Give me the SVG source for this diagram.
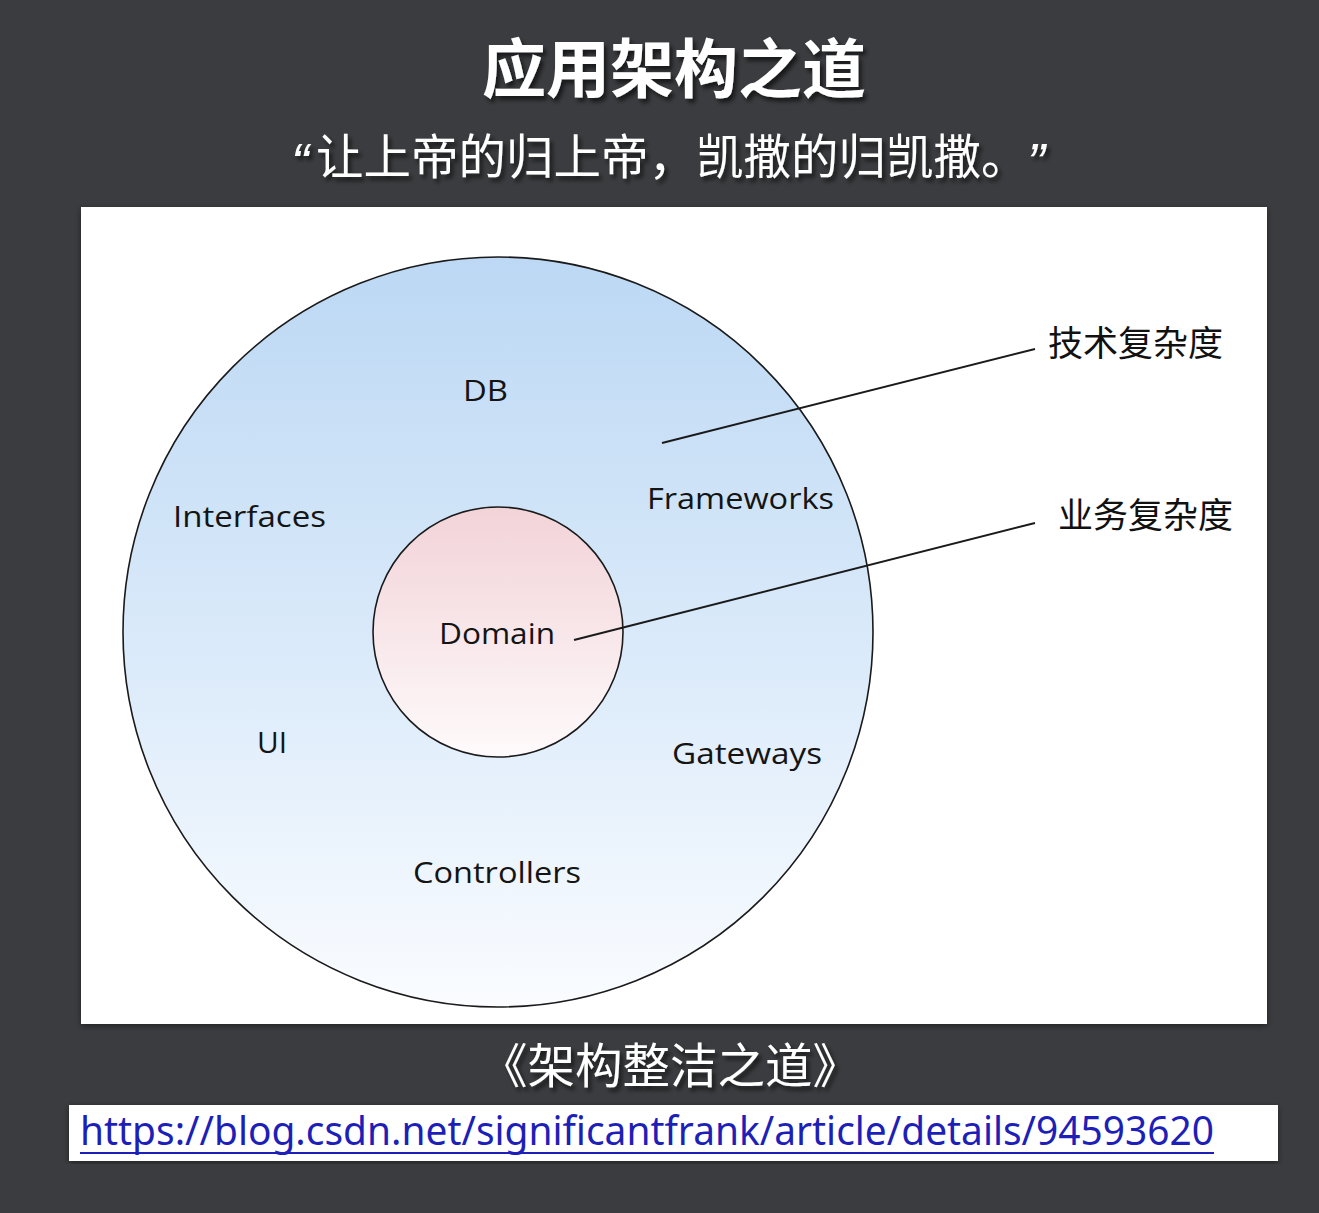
<svg xmlns="http://www.w3.org/2000/svg" width="1319" height="1213" viewBox="0 0 1319 1213">
  <defs>
    <linearGradient id="outerFill" x1="0" y1="0" x2="0" y2="1">
      <stop offset="0" stop-color="#bcd8f4"/>
      <stop offset="0.55" stop-color="#dcebfa"/>
      <stop offset="1" stop-color="#fafcff"/>
    </linearGradient>
    <linearGradient id="innerFill" x1="0" y1="0" x2="0" y2="1">
      <stop offset="0" stop-color="#f2d3d8"/>
      <stop offset="1" stop-color="#fefafb"/>
    </linearGradient>
    <filter id="titleShadow" x="-10%" y="-20%" width="120%" height="150%">
      <feDropShadow dx="3" dy="4" stdDeviation="2" flood-color="#000" flood-opacity="0.6"/>
    </filter>
    <filter id="panelShadow" x="-5%" y="-5%" width="110%" height="110%">
      <feDropShadow dx="0" dy="2" stdDeviation="3" flood-color="#000" flood-opacity="0.45"/>
    </filter>
  </defs>
  <style>
    .lbl { font-family: "Open Sans", "Liberation Sans", sans-serif; font-size: 30px; fill: #141414; }
    .cjk { font-family: "Noto Sans CJK SC", sans-serif; }
    .note { font-size: 35px; fill: #111; }
    .ring { stroke: #1a1a1a; stroke-width: 1.6; }
    .lead { stroke: #1a1a1a; stroke-width: 2; fill: none; }
    .white { fill: #ffffff; }
    .qmark { font-family: "Liberation Sans", sans-serif; font-size: 54px; font-style: italic; fill: #ffffff; }
  </style>

  <!-- backdrop -->
  <rect x="0" y="0" width="1319" height="1213" fill="#3b3c3f"/>

  <!-- headings -->
  <g id="title">
    <text x="674" y="92" text-anchor="middle" class="cjk white" font-size="64" font-weight="bold" filter="url(#titleShadow)">应用架构之道</text>
  </g>
  <g id="quote" filter="url(#titleShadow)">
    <text x="291" y="181" class="qmark">“</text>
    <text x="316" y="174" class="cjk white" font-size="47.5">让上帝的归上帝，凯撒的归凯撒。</text>
    <text x="1027" y="181" class="qmark">”</text>
  </g>

  <!-- white panel -->
  <rect x="81" y="207" width="1186" height="817" fill="#ffffff" filter="url(#panelShadow)"/>

  <!-- outer ring: technical layers -->
  <g id="outer-ring">
    <circle cx="498" cy="632" r="375" fill="url(#outerFill)" class="ring"/>
    <text class="lbl" x="463" y="401" textLength="45" lengthAdjust="spacingAndGlyphs">DB</text>
    <text class="lbl" x="173" y="527" textLength="153" lengthAdjust="spacingAndGlyphs">Interfaces</text>
    <text class="lbl" x="647" y="509" textLength="187" lengthAdjust="spacingAndGlyphs">Frameworks</text>
    <text class="lbl" x="257" y="753" textLength="30" lengthAdjust="spacingAndGlyphs">UI</text>
    <text class="lbl" x="672" y="764" textLength="150" lengthAdjust="spacingAndGlyphs">Gateways</text>
    <text class="lbl" x="413" y="883" textLength="168" lengthAdjust="spacingAndGlyphs">Controllers</text>
  </g>

  <!-- inner ring: domain -->
  <g id="domain">
    <circle cx="498" cy="632" r="125" fill="url(#innerFill)" class="ring"/>
    <text class="lbl" x="439" y="644" textLength="116" lengthAdjust="spacingAndGlyphs">Domain</text>
  </g>

  <!-- leader lines -->
  <g id="connectors">
    <line class="lead" x1="662" y1="443" x2="1035" y2="349"/>
    <line class="lead" x1="574" y1="640" x2="1035" y2="523"/>
  </g>

  <g id="tech-complexity">
    <text class="cjk note" x="1048" y="356">技术复杂度</text>
  </g>
  <g id="biz-complexity">
    <text class="cjk note" x="1058" y="528">业务复杂度</text>
  </g>

  <!-- book reference -->
  <g id="book">
    <text x="670" y="1083" text-anchor="middle" class="cjk white" font-size="47.5" filter="url(#titleShadow)">《架构整洁之道》</text>
  </g>
  <g id="link">
    <rect x="69" y="1105" width="1209" height="56" fill="#ffffff" filter="url(#panelShadow)"/>
    <text x="80" y="1145" font-family="'Noto Sans', 'Liberation Sans', sans-serif" font-size="40" fill="#1d1fb8" textLength="1134" lengthAdjust="spacingAndGlyphs">https://blog.csdn.net/significantfrank/article/details/94593620</text>
    <line x1="80" y1="1153" x2="1214" y2="1153" stroke="#1d1fb8" stroke-width="2"/>
  </g>
</svg>
